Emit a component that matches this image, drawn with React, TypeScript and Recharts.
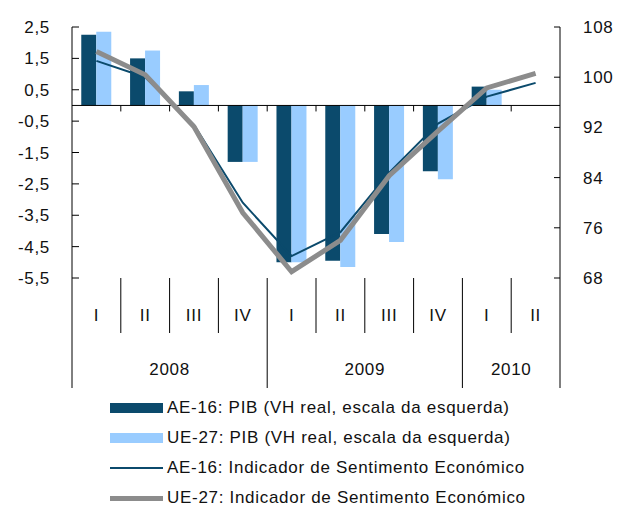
import { ComposedChart, Bar, Line, XAxis, YAxis, ReferenceLine, Legend } from 'recharts';

// categories
const quarters = ['I', 'II', 'III', 'IV', 'I', 'II', 'III', 'IV', 'I', 'II'];
const years = ['2008', '2009', '2010'];
const quartersPerYear = [4, 4, 2];

// PIB, VH real (left axis)
const pibAE16 = [2.25, 1.5, 0.45, -1.8, -5.0, -4.95, -4.1, -2.1, 0.6, null];
const pibUE27 = [2.35, 1.75, 0.65, -1.8, -5.0, -5.15, -4.35, -2.35, 0.5, null];

// Indicador de Sentimento Económico (right axis)
const iseAE16 = [102.6, 100.0, 92.4, 80.0, 71.5, 75.3, 84.8, 92.6, 96.9, 99.1];
const iseUE27 = [104.1, 100.4, 92.1, 78.4, 69.0, 74.0, 84.3, 91.4, 98.3, 100.6];

const leftTicks = [2.5, 1.5, 0.5, -0.5, -1.5, -2.5, -3.5, -4.5, -5.5];
const rightTicks = [68, 76, 84, 92, 100, 108];

const DARK = '#0B4A6C';
const LIGHT = '#99CCFF';
const GREY = '#8C8C8C';
const FONT = '"Liberation Sans", Arial, sans-serif';

const W = 618;
const H = 506;
const LEFT_W = 72;
const RIGHT_W = 58;
const BAND = (W - LEFT_W - RIGHT_W) / quarters.length;

// first quarter index of each year
const yearStart: number[] = [];
let acc = 0;
for (const n of quartersPerYear) {
  yearStart.push(acc);
  acc += n;
}

const data = quarters.map((q, i) => ({
  key: `${i}-${q}`,
  q,
  pibAE16: pibAE16[i],
  pibUE27: pibUE27[i],
  iseAE16: iseAE16[i],
  iseUE27: iseUE27[i],
}));

const txt = { fontFamily: FONT, fontSize: 17, letterSpacing: 0.7, fill: '#111' };

function LeftTick({ x, y, payload }: any) {
  return (
    <g>
      <line x1={x} y1={y} x2={x + 7} y2={y} stroke="#000" />
      <text x={x - 22} y={y} dy={6} textAnchor="end" {...txt}>
        {String(payload.value).replace('.', ',')}
      </text>
    </g>
  );
}

function RightTick({ x, y, payload }: any) {
  return (
    <g>
      <line x1={x - 6} y1={y} x2={x} y2={y} stroke="#000" />
      <text x={x + 23} y={y} dy={6} textAnchor="start" {...txt}>
        {payload.value}
      </text>
    </g>
  );
}

// quarter label + separators, year label under the middle of each year
function QuarterTick({ x, y, index }: any) {
  const i = index as number;
  const yi = yearStart.findIndex((s, k) => i >= s && i < s + quartersPerYear[k]);
  const isYearEnd = i === yearStart[yi] + quartersPerYear[yi] - 1;
  const isYearMid = i === yearStart[yi] + quartersPerYear[yi] / 2 - 1;
  const right = x + BAND / 2;
  return (
    <g>
      {i === 0 && <line x1={x - BAND / 2} y1={y} x2={x - BAND / 2} y2={y + 110} stroke="#000" />}
      <line x1={right} y1={y} x2={right} y2={y + (isYearEnd ? 110 : 55)} stroke="#000" />
      <text x={x} y={y + 43} textAnchor="middle" {...txt}>
        {quarters[i]}
      </text>
      {isYearMid && (
        <text x={right} y={y + 97} textAnchor="middle" {...txt}>
          {years[yi]}
        </text>
      )}
    </g>
  );
}

function ZeroLine(p: any) {
  const marks = [];
  for (let i = 1; i < quarters.length; i++) {
    const xx = p.x1 + ((p.x2 - p.x1) * i) / quarters.length;
    marks.push(<line key={i} x1={xx} y1={p.y1} x2={xx} y2={p.y1 + 6} stroke="#000" />);
  }
  return (
    <g>
      <line x1={p.x1} y1={p.y1} x2={p.x2} y2={p.y2} stroke="#000" />
      {marks}
    </g>
  );
}

const legendItems = [
  { label: 'AE-16: PIB (VH real, escala da esquerda)', color: DARK, h: 10 },
  { label: 'UE-27: PIB (VH real, escala da esquerda)', color: LIGHT, h: 10 },
  { label: 'AE-16: Indicador de Sentimento Económico', color: DARK, h: 2 },
  { label: 'UE-27: Indicador de Sentimento Económico', color: GREY, h: 5 },
];

function ChartLegend() {
  return (
    <div style={{ position: 'relative', height: 118, width: W }}>
      {legendItems.map((it, i) => (
        <div
          key={it.label}
          style={{ position: 'absolute', left: 110, top: 5 + i * 30, height: 30, display: 'flex', alignItems: 'center' }}
        >
          <div style={{ width: 53, height: it.h, background: it.color }} />
          <span style={{ marginLeft: 4, fontFamily: FONT, fontSize: 17, letterSpacing: 0.7, color: '#111', whiteSpace: 'nowrap' }}>
            {it.label}
          </span>
        </div>
      ))}
    </div>
  );
}

export default function App() {
  return (
    <div style={{ position: 'absolute', left: 0, top: 0, width: W, height: H, background: '#fff' }}>
      <ComposedChart
        width={W}
        height={H}
        data={data}
        margin={{ top: 27, right: 0, bottom: 0, left: 0 }}
        barCategoryGap="19%"
        barGap={0}
      >
        <XAxis
          dataKey="key"
          height={110}
          axisLine={false}
          tickLine={false}
          tickSize={0}
          tickMargin={0}
          interval={0}
          tick={<QuarterTick />}
        />
        <YAxis
          yAxisId="left"
          width={LEFT_W}
          domain={[-5.5, 2.5]}
          ticks={leftTicks}
          axisLine={{ stroke: '#000' }}
          tickLine={false}
          tickSize={0}
          tickMargin={0}
          tick={<LeftTick />}
        />
        <YAxis
          yAxisId="right"
          orientation="right"
          width={RIGHT_W}
          domain={[68, 108]}
          ticks={rightTicks}
          axisLine={{ stroke: '#000' }}
          tickLine={false}
          tickSize={0}
          tickMargin={0}
          tick={<RightTick />}
        />
        <Bar yAxisId="left" dataKey="pibAE16" fill={DARK} isAnimationActive={false} />
        <Bar yAxisId="left" dataKey="pibUE27" fill={LIGHT} isAnimationActive={false} />
        <ReferenceLine yAxisId="left" y={0} shape={ZeroLine} />
        <Line
          yAxisId="right"
          dataKey="iseAE16"
          type="linear"
          stroke={DARK}
          strokeWidth={2}
          dot={false}
          activeDot={false}
          isAnimationActive={false}
        />
        <Line
          yAxisId="right"
          dataKey="iseUE27"
          type="linear"
          stroke={GREY}
          strokeWidth={5}
          dot={false}
          activeDot={false}
          isAnimationActive={false}
        />
        <Legend verticalAlign="bottom" content={<ChartLegend />} wrapperStyle={{ left: 0, width: W }} />
      </ComposedChart>
    </div>
  );
}
